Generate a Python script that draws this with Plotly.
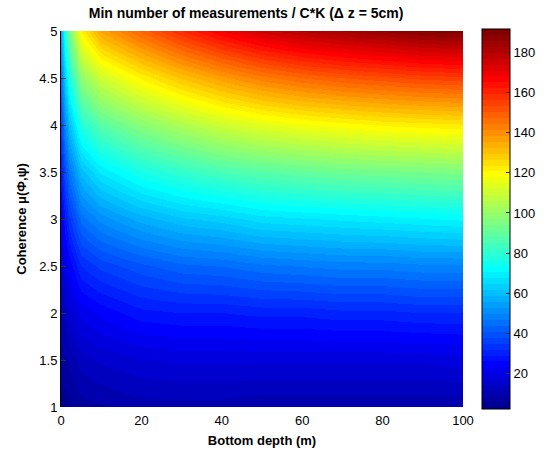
import plotly.graph_objects as go

# Data
depth = [0, 1, 2, 5, 10, 20, 30, 40, 50, 60, 70, 80, 90, 100]
coherence = [1.0, 1.5, 2.0, 2.5, 3.0, 3.5, 4.0, 4.5, 5.0]
n_row_10 = [4, 4, 5, 7, 8, 10, 10, 10, 9, 9, 9, 9, 9, 9]
n_row_15 = [7, 8, 9, 13, 15, 17, 18, 18, 18, 18, 18, 18, 18, 19]
n_row_20 = [11, 13, 16, 21, 24, 28, 29, 29, 30, 30, 31, 31, 32, 32]
n_row_25 = [16, 20, 24, 32, 36, 40, 43, 44, 46, 47, 48, 48, 49, 49]
n_row_30 = [22, 29, 34, 45, 51, 57, 61, 63, 66, 67, 68, 69, 70, 71]
n_row_35 = [29, 39, 46, 60, 68, 76, 81, 85, 88, 90, 92, 93, 94, 95]
n_row_40 = [37, 51, 60, 78, 88, 97, 104, 110, 114, 117, 119, 121, 122, 123]
n_row_45 = [47, 64, 76, 98, 110, 121, 130, 137, 143, 147, 150, 152, 154, 155]
n_row_50 = [57, 78, 93, 121, 136, 148, 159, 168, 175, 180, 183, 186, 189, 190]
z = [n_row_10, n_row_15, n_row_20, n_row_25, n_row_30,
     n_row_35, n_row_40, n_row_45, n_row_50]

x_ticks = [0, 20, 40, 60, 80, 100]
y_ticks = [1, 1.5, 2, 2.5, 3, 3.5, 4, 4.5, 5]
y_ticklabels = ["1", "1.5", "2", "2.5", "3", "3.5", "4", "4.5", "5"]
cb_ticks = [20, 40, 60, 80, 100, 120, 140, 160, 180]

# MATLAB jet(64) discrete colour scale
def clip(v):
    return max(0.0, min(1.0, v))

colors = []
for i in range(1, 65):
    x4 = 4 * i / 64
    r = clip(min(x4 - 1.5, -x4 + 4.5))
    g = clip(min(x4 - 0.5, -x4 + 3.5))
    b = clip(min(x4 + 0.5, -x4 + 2.5))
    colors.append(f"rgb({round(r*255)},{round(g*255)},{round(b*255)})")
cscale = []
for i, c in enumerate(colors):
    cscale.append([i / 64, c])
    cscale.append([(i + 1) / 64, c])

font = "Liberation Sans, Arial, sans-serif"

fig = go.Figure(go.Heatmap(
    x=depth, y=coherence, z=z,
    zsmooth="best",
    colorscale=cscale, zmin=2.5, zmax=191.5,
    colorbar=dict(
        x=1.047, xanchor="left", y=0.5, yanchor="middle",
        thickness=28, thicknessmode="pixels",
        len=380, lenmode="pixels",
        outlinecolor="black", outlinewidth=1,
        tickvals=cb_ticks, ticks="inside", ticklen=4, tickcolor="#333",
        tickfont=dict(family=font, size=13, color="black"),
        xpad=0, ypad=0,
    ),
))

fig.update_layout(
    width=553, height=457,
    margin=dict(l=61, r=90, t=31, b=48),
    paper_bgcolor="white", plot_bgcolor="white",
    title=dict(text="<b>Min number of measurements / C*K (\u0394 z = 5cm)</b>",
               x=0.445, xanchor="center", y=0.972, yanchor="middle",
               font=dict(family=font, size=14, color="black")),
    xaxis=dict(range=[0, 100], tickvals=x_ticks, ticks="",
               showgrid=False, zeroline=False, showline=False,
               ticklabelstandoff=4,
               tickfont=dict(family=font, size=13, color="black"),
               title=dict(text="<b>Bottom depth (m)</b>", standoff=8,
                          font=dict(family=font, size=13, color="black"))),
    yaxis=dict(range=[1, 5], tickvals=y_ticks, ticktext=y_ticklabels,
               ticks="inside", ticklen=5, tickcolor="#333",
               showline=True, linecolor="black", linewidth=1, mirror=False,
               showgrid=False, zeroline=False,
               tickfont=dict(family=font, size=13, color="black"),
               title=dict(text="<b>Coherence \u03bc(\u03a6,\u03c8)</b>", standoff=9,
                          font=dict(family=font, size=13, color="black"))),
)

fig.write_html("out.html")
